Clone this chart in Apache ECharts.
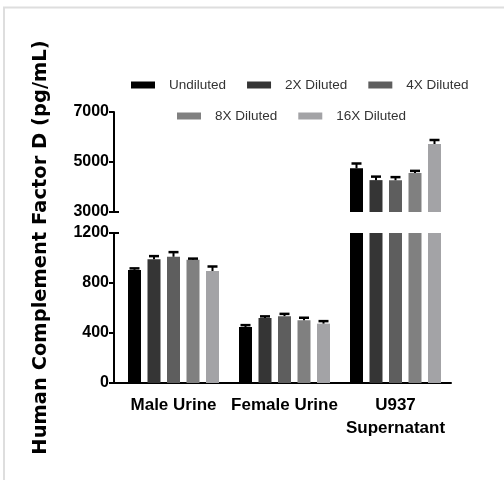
<!DOCTYPE html>
<html>
<head>
<meta charset="utf-8">
<script src="https://cdn.jsdelivr.net/npm/echarts@6/dist/echarts.min.js"></script>
<style>
html,body{margin:0;padding:0;background:#fff;}
#chart{width:504px;height:480px;}
</style>
</head>
<body>
<div id="chart"></div>
<script>
// ---- data ----
const categories = ['Male Urine', 'Female Urine', 'U937\nSupernatant'];
const seriesNames = ['Undiluted', '2X Diluted', '4X Diluted', '8X Diluted', '16X Diluted'];
const undiluted = [905, 448, 4750];
const diluted2x = [990, 520, 4275];
const diluted4x = [1010, 535, 4270];
const diluted8x = [987, 502, 4560];
const diluted16x = [896, 475, 5720];
const errUndiluted = [12, 15, 190];
const errDiluted2x = [25, 13, 140];
const errDiluted4x = [37, 18, 125];
const errDiluted8x = [8, 20, 85];
const errDiluted16x = [36, 20, 160];
const lowerTicks = [0, 400, 800, 1200];
const upperTicks = [3000, 5000, 7000];
const yTitle = 'Human Complement Factor D (pg/mL)';

// ---- styling ----
const colors = ['#000000', '#353535', '#5e5e5e', '#808080', '#a3a3a6'];
const values = [undiluted, diluted2x, diluted4x, diluted8x, diluted16x];
const errors = [errUndiluted, errDiluted2x, errDiluted4x, errDiluted8x, errDiluted16x];
const BAR_W = 13, BAR_GAP = '50%';
const upperMin = upperTicks[0], upperMax = upperTicks[upperTicks.length - 1];
const lowerMin = lowerTicks[0], lowerMax = lowerTicks[lowerTicks.length - 1];
const Y_OFFSET = 4;

const axisLineStyle = {color: '#000', width: 2};
const yLabel = {color: '#000', fontFamily: '"Liberation Sans", Arial, sans-serif', fontWeight: 'bold', fontSize: 16, margin: 5,
  formatter: v => String(v)};

function errData(lo, hi) {
  const out = [];
  values.forEach((vals, k) => vals.forEach((v, c) => {
    if (v >= lo && v <= hi) out.push([c, v, errors[k][c], k]);
  }));
  return out;
}
function renderErr(params, api) {
  const c = api.value(0), v = api.value(1), e = api.value(2), k = api.value(3);
  let off;
  if (api.barLayout) {
    const lay = api.barLayout({barWidth: BAR_W, barGap: BAR_GAP, count: values.length});
    off = lay[k].offsetCenter;
  } else {
    off = (k - (values.length - 1) / 2) * BAR_W * 1.5;
  }
  const p0 = api.coord([c, v]);
  const p1 = api.coord([c, v + e]);
  const x = p0[0] + off;
  const st = {stroke: '#000', lineWidth: 2};
  return {type: 'group', children: [
    {type: 'line', shape: {x1: x, y1: p0[1], x2: x, y2: p1[1]}, style: st},
    {type: 'line', shape: {x1: x - 5, y1: p1[1], x2: x + 5, y2: p1[1]}, style: {stroke: '#000', lineWidth: 2.5}}
  ]};
}

const series = [];
values.forEach((vals, k) => {
  series.push({
    name: seriesNames[k], type: 'bar', xAxisIndex: 0, yAxisIndex: 0,
    data: vals.map(v => v > upperMin ? v : '-'),
    barWidth: BAR_W, barGap: BAR_GAP, itemStyle: {color: colors[k]}, clip: true, silent: true
  });
});
values.forEach((vals, k) => {
  series.push({
    name: seriesNames[k], type: 'bar', xAxisIndex: 1, yAxisIndex: 1,
    data: vals.slice(),
    barWidth: BAR_W, barGap: BAR_GAP, itemStyle: {color: colors[k]}, clip: true, silent: true
  });
});
series.push({type: 'custom', xAxisIndex: 0, yAxisIndex: 0, data: errData(upperMin, upperMax), renderItem: renderErr, z: 5, silent: true});
series.push({type: 'custom', xAxisIndex: 1, yAxisIndex: 1, data: errData(lowerMin, lowerMax), renderItem: renderErr, z: 5, silent: true});

const legendText = {color: '#333', fontFamily: '"Liberation Sans", Arial, sans-serif', fontSize: 13.5, padding: [0, 0, 0, 9]};

const option = {
  animation: false,
  backgroundColor: '#fff',
  color: colors,
  legend: [
    {data: seriesNames.slice(0, 3), left: 131, top: 78, padding: 0, icon: 'rect', itemWidth: 24, itemHeight: 7, itemGap: 21, textStyle: legendText, selectedMode: false},
    {data: seriesNames.slice(3), left: 177, top: 109, padding: 0, icon: 'rect', itemWidth: 24, itemHeight: 7, itemGap: 21, textStyle: legendText, selectedMode: false}
  ],
  grid: [
    {left: 118, width: 333, top: 112, height: 100},
    {left: 118, width: 333, top: 233, height: 150}
  ],
  xAxis: [
    {gridIndex: 0, type: 'category', data: categories, show: false},
    {gridIndex: 1, type: 'category', data: categories,
     axisLine: {lineStyle: axisLineStyle},
     axisTick: {alignWithLabel: true, length: 6, lineStyle: axisLineStyle},
     axisLabel: {color: '#000', fontFamily: '"Liberation Sans", Arial, sans-serif', fontWeight: 'bold', fontSize: 17, lineHeight: 23, margin: 11, interval: 0}}
  ],
  yAxis: [
    {gridIndex: 0, type: 'value', min: upperMin, max: upperMax, interval: upperTicks[1] - upperTicks[0], offset: Y_OFFSET,
     axisLine: {show: true, lineStyle: axisLineStyle}, axisTick: {show: true, length: 5, lineStyle: axisLineStyle},
     splitLine: {show: false}, axisLabel: yLabel},
    {gridIndex: 1, type: 'value', min: lowerMin, max: lowerMax, interval: lowerTicks[1] - lowerTicks[0], offset: Y_OFFSET,
     axisLine: {show: true, lineStyle: axisLineStyle}, axisTick: {show: true, length: 5, lineStyle: axisLineStyle},
     splitLine: {show: false}, axisLabel: yLabel}
  ],
  series: series
};

const chart = echarts.init(document.getElementById('chart'), null, {renderer: 'canvas'});
chart.setOption(option);

// decorations derived from the axes: break marks, corner joint, title, frame
const x0 = chart.convertToPixel({xAxisIndex: 1}, 0);
const x1 = chart.convertToPixel({xAxisIndex: 1}, 1);
const gridLeft = x0 - (x1 - x0) / 2;
const axX = gridLeft - Y_OFFSET;
const yBreakU = chart.convertToPixel({yAxisIndex: 0}, upperMin);
const yBreakL = chart.convertToPixel({yAxisIndex: 1}, lowerMax);
const yZero = chart.convertToPixel({yAxisIndex: 1}, lowerMin);
const yTopU = chart.convertToPixel({yAxisIndex: 0}, upperMax);
const lineSt = {stroke: '#000', lineWidth: 2};
chart.setOption({
  graphic: [
    {type: 'line', shape: {x1: axX - 5, y1: yBreakU, x2: axX + 5, y2: yBreakU}, style: lineSt, z: 10},
    {type: 'line', shape: {x1: axX - 5, y1: yBreakL, x2: axX + 5, y2: yBreakL}, style: lineSt, z: 10},
    {type: 'line', shape: {x1: axX, y1: yZero, x2: gridLeft + 1, y2: yZero}, style: lineSt, z: 10},
    {type: 'text', x: 41, y: (yTopU + yZero) / 2 + 0, rotation: Math.PI / 2,
     style: {text: yTitle, fill: '#000', fontFamily: '"DejaVu Sans", sans-serif', fontWeight: 'bold', fontSize: 19.5, align: 'center', verticalAlign: 'middle'}},
    {type: 'line', shape: {x1: 4, y1: 7, x2: 4, y2: 480}, style: {stroke: '#dedede', lineWidth: 2}},
    {type: 'line', shape: {x1: 3, y1: 7.5, x2: 504, y2: 7.5}, style: {stroke: '#dedede', lineWidth: 2}}
  ]
});
</script>
</body>
</html>
